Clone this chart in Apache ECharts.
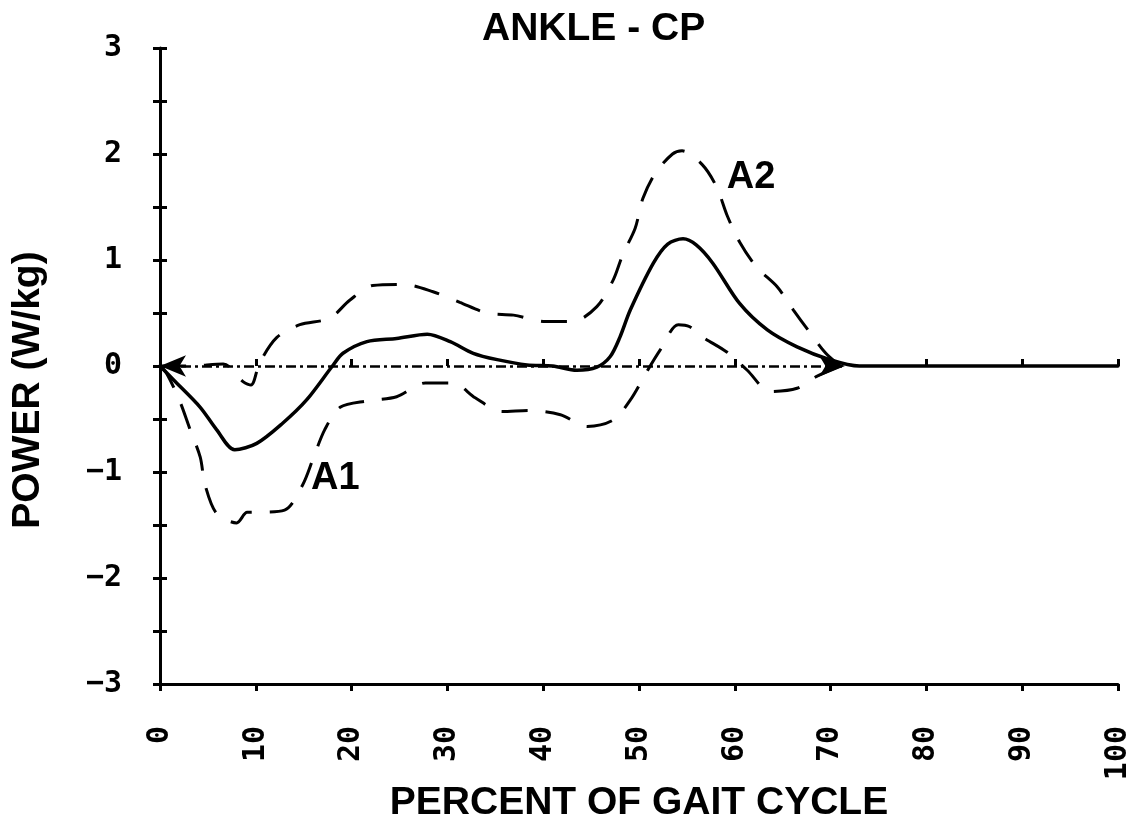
<!DOCTYPE html>
<html lang="en">
<head>
  <meta charset="UTF-8">
  <title>ANKLE - CP</title>
  <script src="https://cdn.jsdelivr.net/npm/echarts@6/dist/echarts.min.js"></script>
  <style>
    body { margin: 0; background: #fff; }
    #main { width: 1134px; height: 821px; }
  </style>
</head>
<body>
  <div id="main"></div>
  <script>
    // mean power curve (solid)
    const meanX = [0, 1.4, 4.2, 5.9, 7.8, 10.1, 12.8, 15.3, 18, 19.1, 21.6, 24.7, 27.9, 30.3, 32.7, 35.2, 38.3, 41, 43.5, 45.6, 47, 48, 49.1, 51.5, 53, 54.6, 56, 57.7, 60.5, 63.4, 66.5, 69.9, 73, 80, 90, 100];
    const meanY = [0, -0.13, -0.39, -0.6, -0.79, -0.73, -0.54, -0.32, 0, 0.12, 0.23, 0.26, 0.3, 0.23, 0.12, 0.06, 0.01, 0, -0.04, -0.01, 0.09, 0.27, 0.53, 0.97, 1.15, 1.2, 1.14, 0.97, 0.59, 0.34, 0.18, 0.06, 0, 0, 0, 0];

    // upper band (dashed)
    const upperX = [0, 3, 6.6, 8.7, 9.5, 10.4, 12.2, 14.6, 17.7, 19.8, 22.2, 25.4, 28.5, 31.3, 34.1, 36.9, 40.2, 43.1, 45.6, 47.3, 48.3, 49.6, 50.4, 51.7, 53.5, 54.5, 56.6, 58.1, 59.2, 60.5, 62.3, 64.4, 66.1, 67.8, 69.5, 71];
    const upperY = [0, 0, 0.02, -0.15, -0.18, 0.03, 0.27, 0.39, 0.45, 0.62, 0.76, 0.77, 0.7, 0.6, 0.5, 0.48, 0.42, 0.42, 0.56, 0.81, 1.05, 1.3, 1.58, 1.82, 2.0, 2.03, 1.9, 1.69, 1.42, 1.17, 0.93, 0.75, 0.53, 0.32, 0.12, 0];

    // lower band (dashed)
    const lowerX = [0, 0.7, 2.1, 3.1, 4.2, 4.7, 5.9, 8, 9.1, 10.2, 13, 14.9, 16, 17.2, 18.8, 21.6, 24.7, 27.7, 30.6, 32.9, 35.7, 38.6, 41.8, 44.6, 47.3, 49.1, 50.9, 52.2, 54.1, 55.3, 56.7, 59.2, 61.3, 63.7, 66.5, 68.5, 71];
    const lowerY = [0, -0.07, -0.34, -0.59, -0.86, -1.12, -1.39, -1.48, -1.38, -1.38, -1.36, -1.12, -0.87, -0.6, -0.39, -0.33, -0.29, -0.16, -0.16, -0.3, -0.43, -0.42, -0.46, -0.57, -0.51, -0.32, -0.04, 0.15, 0.39, 0.37, 0.27, 0.13, -0.04, -0.24, -0.21, -0.1, 0];

    // stance arrow along zero line
    const stanceStart = 0;
    const stanceEnd = 71.5;

    // peak labels
    const peakNames = ['A1', 'A2'];
    const peakX = [18.3, 61.7];
    const peakY = [-1.06, 1.78];

    const pairs = (xs, ys) => xs.map((x, i) => [x, ys[i]]);

    const tickFont = { fontFamily: 'DejaVu Sans Mono', fontWeight: 'bold', fontSize: 30, color: '#000' };
    const nameFont = { fontFamily: 'Liberation Sans', fontWeight: 'bold', fontSize: 39, color: '#000' };

    var myChart = echarts.init(document.getElementById('main'));
    var option = {
      animation: false,
      backgroundColor: '#fff',
      title: {
        text: 'ANKLE - CP',
        left: 477,
        top: 5,
        textStyle: Object.assign({}, nameFont)
      },
      grid: { left: 160, right: 16, top: 48, bottom: 137, outerBoundsMode: 'none' },
      xAxis: [
        {
          type: 'value', min: 0, max: 100, interval: 10,
          name: 'PERCENT OF GAIT CYCLE', nameLocation: 'middle', nameGap: 100,
          nameMoveOverlap: false,
          nameTextStyle: nameFont,
          axisLine: { onZero: false, lineStyle: { color: '#000', width: 3 } },
          axisTick: { length: 7, lineStyle: { color: '#000', width: 3 } },
          axisLabel: Object.assign({ rotate: 90, margin: 42 }, tickFont),
          splitLine: { show: false }
        },
        {
          type: 'value', min: 0, max: 100, interval: 10, position: 'bottom',
          axisLine: { show: false },
          axisTick: { inside: true, length: 7, lineStyle: { color: '#000', width: 3 } },
          axisLabel: { show: false },
          splitLine: { show: false }
        }
      ],
      yAxis: [
        {
          type: 'value', min: -3, max: 3, interval: 0.5,
          name: 'POWER (W/kg)', nameLocation: 'middle', nameGap: 112,
          nameMoveOverlap: false,
          nameTextStyle: Object.assign({ padding: [0, 48, 0, 0] }, nameFont),
          axisLine: { onZero: false, lineStyle: { color: '#000', width: 3 } },
          axisTick: { length: 7, lineStyle: { color: '#000', width: 3 } },
          axisLabel: Object.assign({
            margin: 38,
            formatter: v => Number.isInteger(v) ? String(v).replace('-', '\u2212') : ''
          }, tickFont),
          splitLine: { show: false }
        },
        {
          type: 'value', min: -3, max: 3, interval: 0.5, position: 'left',
          axisLine: { show: false },
          axisTick: { inside: true, length: 7, lineStyle: { color: '#000', width: 3 } },
          axisLabel: { show: false },
          splitLine: { show: false }
        }
      ],
      series: [
        {
          name: 'upper',
          type: 'line',
          data: pairs(upperX, upperY),
          smooth: 0.3,
          showSymbol: false,
          lineStyle: { color: '#000', width: 3, type: [26, 18] }
        },
        {
          name: 'lower',
          type: 'line',
          data: pairs(lowerX, lowerY),
          smooth: 0.3,
          showSymbol: false,
          lineStyle: { color: '#000', width: 3, type: [26, 18] }
        },
        {
          name: 'mean',
          type: 'line',
          data: pairs(meanX, meanY),
          smooth: 0.3,
          showSymbol: false,
          lineStyle: { color: '#000', width: 3.5, cap: 'round' },
          markLine: {
            silent: true,
            symbol: ['arrow', 'arrow'],
            symbolSize: [16, 26],
            label: { show: false },
            lineStyle: { color: '#000', width: 2.5, type: [10, 4, 3, 4] },
            data: [[{ coord: [stanceStart, 0] }, { coord: [stanceEnd, 0] }]]
          }
        },
        {
          name: 'peaks',
          type: 'scatter',
          data: peakNames.map((n, i) => ({ name: n, value: [peakX[i], peakY[i]] })),
          symbolSize: 0,
          itemStyle: { opacity: 1 },
          label: {
            show: true,
            position: 'inside',
            formatter: '{b}',
            fontFamily: 'Liberation Sans',
            fontWeight: 'bold',
            fontSize: 38,
            color: '#000',
            opacity: 1
          }
        }
      ]
    };

    myChart.setOption(option);
  </script>
</body>
</html>
